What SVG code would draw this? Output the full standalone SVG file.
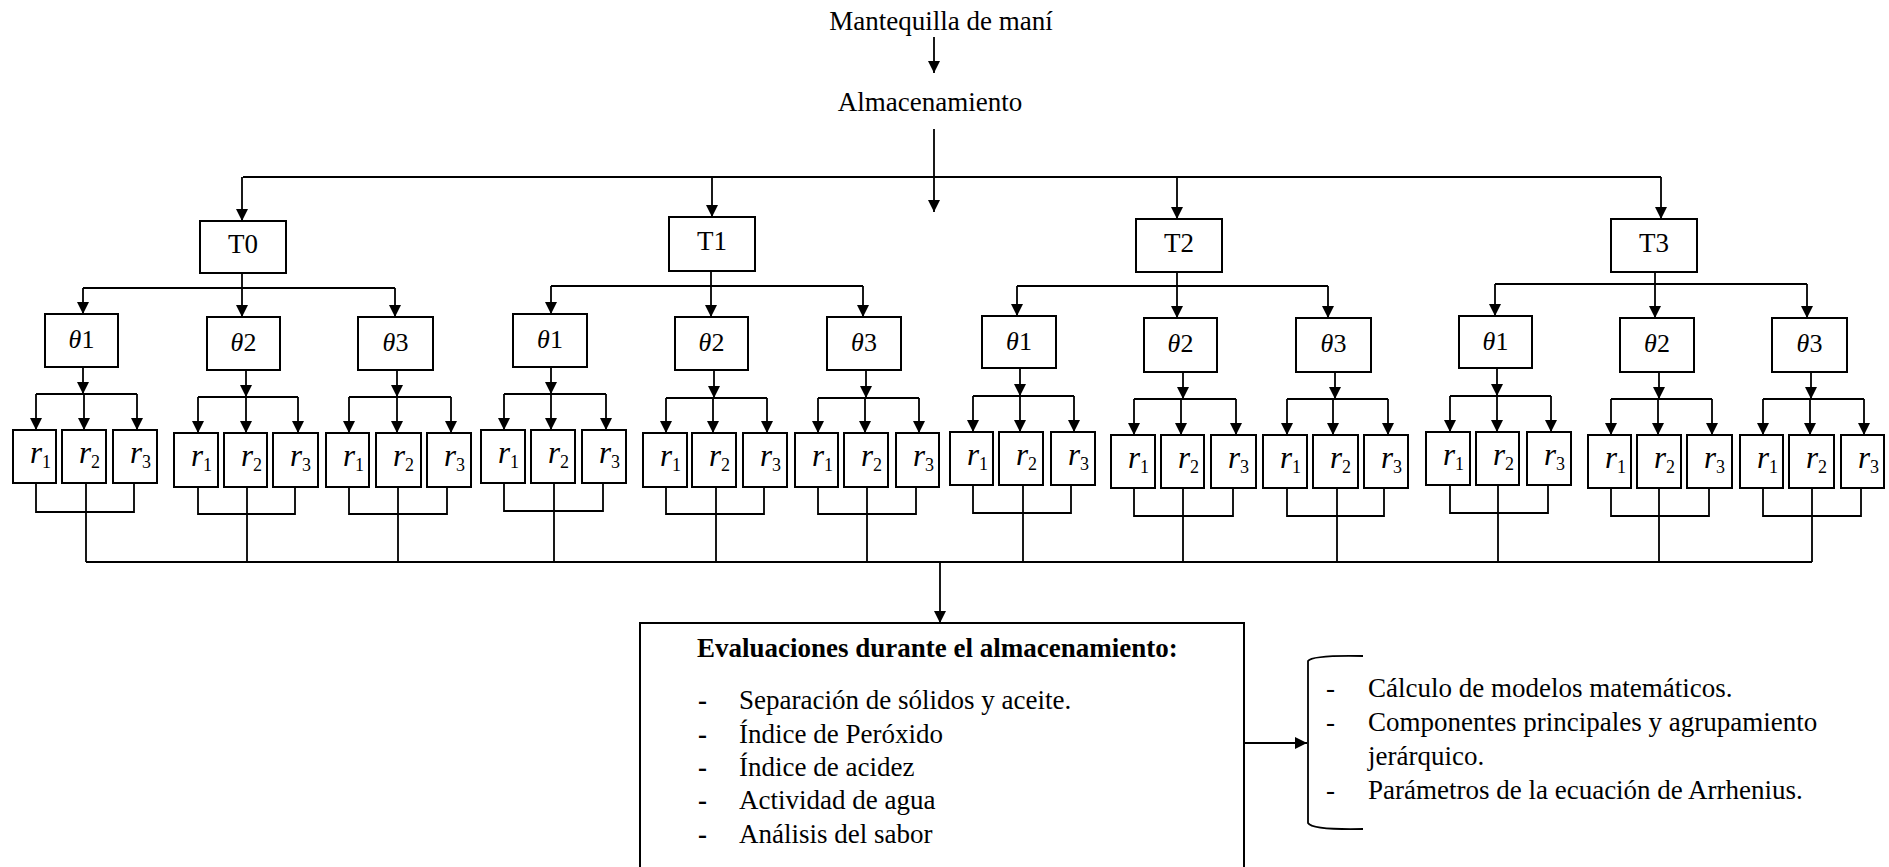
<svg xmlns="http://www.w3.org/2000/svg" width="1889" height="867" viewBox="0 0 1889 867">
<defs>
<marker id="ah" markerUnits="userSpaceOnUse" markerWidth="12" markerHeight="12" refX="12" refY="6" orient="auto"><path d="M0,0L12,6L0,12z" fill="#000"/></marker>
<style>
.b{fill:#fff;stroke:#000;stroke-width:2}
.c path{fill:none;stroke:#000;stroke-width:1.8}
.c path.a{marker-end:url(#ah)}
text{font-family:"Liberation Serif","Times New Roman",serif;fill:#000}
.t{font-size:27px}
.tm{font-size:27px;text-anchor:middle}
.th{font-size:26px;text-anchor:middle}
.th tspan.g{font-style:italic}
.r{font-size:31px;font-style:italic}
.s{font-size:18px;font-style:normal}
.bd{font-weight:bold}
</style>
</defs>
<rect width="1889" height="867" fill="#fff"/>

<g id="mantequilla"><text class="tm" x="941" y="30">Mantequilla de maní</text></g>
<g id="almacenamiento"><text class="tm" x="930" y="111">Almacenamiento</text></g>

<g id="connectors" class="c">
<path class="a" d="M934,37V73"/>
<path class="a" d="M934,129V212"/>
<path d="M243,177H1661"/>
<path class="a" d="M242,177V221"/>
<path class="a" d="M712,177V217"/>
<path class="a" d="M1177,177V219"/>
<path class="a" d="M1661,177V219"/>
<!-- T0 -->
<path d="M242,273V288M83,288H395"/>
<path class="a" d="M83,288V314"/><path class="a" d="M242,288V317"/><path class="a" d="M395,288V317"/>
<path class="a" d="M83,367V394"/><path d="M36,394H137"/>
<path class="a" d="M36,394V430"/><path class="a" d="M84,394V430"/><path class="a" d="M137,394V430"/>
<path d="M36,483V512H134V483M86,483V562"/>
<path class="a" d="M246,370V397"/><path d="M198,397H298"/>
<path class="a" d="M198,397V433"/><path class="a" d="M246,397V433"/><path class="a" d="M298,397V433"/>
<path d="M198,487V514H295V487M247,487V562"/>
<path class="a" d="M397,370V397"/><path d="M349,397H451"/>
<path class="a" d="M349,397V433"/><path class="a" d="M397,397V433"/><path class="a" d="M451,397V433"/>
<path d="M349,487V514H447V487M398,487V562"/>
<!-- T1 -->
<path d="M711,271V286M551,286H863"/>
<path class="a" d="M551,286V314"/><path class="a" d="M711,286V317"/><path class="a" d="M863,286V317"/>
<path class="a" d="M551,367V394"/><path d="M504,394H606"/>
<path class="a" d="M504,394V430"/><path class="a" d="M551,394V430"/><path class="a" d="M606,394V430"/>
<path d="M504,483V511H603V483M554,483V562"/>
<path class="a" d="M714,370V398"/><path d="M666,398H767"/>
<path class="a" d="M666,398V433"/><path class="a" d="M713,398V433"/><path class="a" d="M767,398V433"/>
<path d="M666,487V514H764V487M716,487V562"/>
<path class="a" d="M866,370V398"/><path d="M818,398H919"/>
<path class="a" d="M818,398V433"/><path class="a" d="M865,398V433"/><path class="a" d="M919,398V433"/>
<path d="M818,487V514H916V487M867,487V562"/>
<!-- T2 -->
<path d="M1177,272V286M1017,286H1328"/>
<path class="a" d="M1017,286V316"/><path class="a" d="M1177,286V318"/><path class="a" d="M1328,286V318"/>
<path class="a" d="M1020,368V396"/><path d="M973,396H1074"/>
<path class="a" d="M973,396V432"/><path class="a" d="M1020,396V432"/><path class="a" d="M1074,396V432"/>
<path d="M973,485V513H1071V485M1023,485V562"/>
<path class="a" d="M1183,372V399"/><path d="M1134,399H1236"/>
<path class="a" d="M1134,399V435"/><path class="a" d="M1181,399V435"/><path class="a" d="M1236,399V435"/>
<path d="M1134,488V516H1233V488M1183,488V562"/>
<path class="a" d="M1335,372V399"/><path d="M1287,399H1388"/>
<path class="a" d="M1287,399V435"/><path class="a" d="M1333,399V435"/><path class="a" d="M1388,399V435"/>
<path d="M1287,488V516H1384V488M1337,488V562"/>
<!-- T3 -->
<path d="M1655,272V284M1495,284H1807"/>
<path class="a" d="M1495,284V316"/><path class="a" d="M1655,284V318"/><path class="a" d="M1807,284V318"/>
<path class="a" d="M1497,368V396"/><path d="M1450,396H1551"/>
<path class="a" d="M1450,396V432"/><path class="a" d="M1497,396V432"/><path class="a" d="M1551,396V432"/>
<path d="M1450,485V513H1548V485M1498,485V562"/>
<path class="a" d="M1659,372V399"/><path d="M1611,399H1712"/>
<path class="a" d="M1611,399V435"/><path class="a" d="M1658,399V435"/><path class="a" d="M1712,399V435"/>
<path d="M1611,488V516H1709V488M1659,488V562"/>
<path class="a" d="M1811,372V399"/><path d="M1763,399H1864"/>
<path class="a" d="M1763,399V435"/><path class="a" d="M1810,399V435"/><path class="a" d="M1864,399V435"/>
<path d="M1763,488V516H1861V488M1812,488V562"/>
<!-- bottom -->
<path d="M86,562H1812"/>
<path class="a" d="M940,562V623"/>
<path class="a" d="M1244,743H1307"/>
<path d="M1363,656Q1312,655 1308,661V823Q1312,830 1363,829"/>
</g>

<!-- T boxes -->
<g id="t0"><rect class="b" x="200" y="221" width="86" height="52"/><text class="tm" x="243" y="253">T0</text></g>
<g id="t1"><rect class="b" x="669" y="217" width="86" height="54"/><text class="tm" x="712" y="250">T1</text></g>
<g id="t2"><rect class="b" x="1136" y="219" width="86" height="53"/><text class="tm" x="1179" y="252">T2</text></g>
<g id="t3"><rect class="b" x="1611" y="219" width="86" height="53"/><text class="tm" x="1654" y="252">T3</text></g>

<!-- theta boxes -->
<g id="t0-th1"><rect class="b" x="45" y="314" width="73" height="53"/><text class="th" x="81.5" y="348"><tspan class="g">θ</tspan>1</text></g>
<g id="t0-th2"><rect class="b" x="207" y="317" width="73" height="53"/><text class="th" x="243.5" y="351"><tspan class="g">θ</tspan>2</text></g>
<g id="t0-th3"><rect class="b" x="358" y="317" width="75" height="53"/><text class="th" x="395.5" y="351"><tspan class="g">θ</tspan>3</text></g>
<g id="t1-th1"><rect class="b" x="513" y="314" width="74" height="53"/><text class="th" x="550" y="348"><tspan class="g">θ</tspan>1</text></g>
<g id="t1-th2"><rect class="b" x="675" y="317" width="73" height="53"/><text class="th" x="711.5" y="351"><tspan class="g">θ</tspan>2</text></g>
<g id="t1-th3"><rect class="b" x="827" y="317" width="74" height="53"/><text class="th" x="864" y="351"><tspan class="g">θ</tspan>3</text></g>
<g id="t2-th1"><rect class="b" x="982" y="316" width="74" height="52"/><text class="th" x="1019" y="350"><tspan class="g">θ</tspan>1</text></g>
<g id="t2-th2"><rect class="b" x="1144" y="318" width="73" height="54"/><text class="th" x="1180.5" y="352"><tspan class="g">θ</tspan>2</text></g>
<g id="t2-th3"><rect class="b" x="1296" y="318" width="75" height="54"/><text class="th" x="1333.5" y="352"><tspan class="g">θ</tspan>3</text></g>
<g id="t3-th1"><rect class="b" x="1459" y="316" width="73" height="52"/><text class="th" x="1495.5" y="350"><tspan class="g">θ</tspan>1</text></g>
<g id="t3-th2"><rect class="b" x="1620" y="318" width="74" height="54"/><text class="th" x="1657" y="352"><tspan class="g">θ</tspan>2</text></g>
<g id="t3-th3"><rect class="b" x="1772" y="318" width="75" height="54"/><text class="th" x="1809.5" y="352"><tspan class="g">θ</tspan>3</text></g>

<!-- r boxes T0 -->
<g id="t0-th1-r1"><rect class="b" x="13" y="430" width="43" height="53"/><text class="r" x="30" y="463">r<tspan class="s" dy="5">1</tspan></text></g>
<g id="t0-th1-r2"><rect class="b" x="62" y="430" width="44" height="53"/><text class="r" x="79" y="463">r<tspan class="s" dy="5">2</tspan></text></g>
<g id="t0-th1-r3"><rect class="b" x="113" y="430" width="44" height="53"/><text class="r" x="130" y="463">r<tspan class="s" dy="5">3</tspan></text></g>
<g id="t0-th2-r1"><rect class="b" x="174" y="433" width="44" height="54"/><text class="r" x="191" y="466">r<tspan class="s" dy="5">1</tspan></text></g>
<g id="t0-th2-r2"><rect class="b" x="224" y="433" width="43" height="54"/><text class="r" x="241" y="466">r<tspan class="s" dy="5">2</tspan></text></g>
<g id="t0-th2-r3"><rect class="b" x="273" y="433" width="45" height="54"/><text class="r" x="290" y="466">r<tspan class="s" dy="5">3</tspan></text></g>
<g id="t0-th3-r1"><rect class="b" x="326" y="433" width="43" height="54"/><text class="r" x="343" y="466">r<tspan class="s" dy="5">1</tspan></text></g>
<g id="t0-th3-r2"><rect class="b" x="376" y="433" width="45" height="54"/><text class="r" x="393" y="466">r<tspan class="s" dy="5">2</tspan></text></g>
<g id="t0-th3-r3"><rect class="b" x="427" y="433" width="44" height="54"/><text class="r" x="444" y="466">r<tspan class="s" dy="5">3</tspan></text></g>
<!-- r boxes T1 -->
<g id="t1-th1-r1"><rect class="b" x="481" y="430" width="44" height="53"/><text class="r" x="498" y="463">r<tspan class="s" dy="5">1</tspan></text></g>
<g id="t1-th1-r2"><rect class="b" x="531" y="430" width="44" height="53"/><text class="r" x="548" y="463">r<tspan class="s" dy="5">2</tspan></text></g>
<g id="t1-th1-r3"><rect class="b" x="582" y="430" width="44" height="53"/><text class="r" x="599" y="463">r<tspan class="s" dy="5">3</tspan></text></g>
<g id="t1-th2-r1"><rect class="b" x="643" y="433" width="44" height="54"/><text class="r" x="660" y="466">r<tspan class="s" dy="5">1</tspan></text></g>
<g id="t1-th2-r2"><rect class="b" x="692" y="433" width="44" height="54"/><text class="r" x="709" y="466">r<tspan class="s" dy="5">2</tspan></text></g>
<g id="t1-th2-r3"><rect class="b" x="743" y="433" width="44" height="54"/><text class="r" x="760" y="466">r<tspan class="s" dy="5">3</tspan></text></g>
<g id="t1-th3-r1"><rect class="b" x="795" y="433" width="43" height="54"/><text class="r" x="812" y="466">r<tspan class="s" dy="5">1</tspan></text></g>
<g id="t1-th3-r2"><rect class="b" x="844" y="433" width="44" height="54"/><text class="r" x="861" y="466">r<tspan class="s" dy="5">2</tspan></text></g>
<g id="t1-th3-r3"><rect class="b" x="896" y="433" width="43" height="54"/><text class="r" x="913" y="466">r<tspan class="s" dy="5">3</tspan></text></g>
<!-- r boxes T2 -->
<g id="t2-th1-r1"><rect class="b" x="950" y="432" width="43" height="53"/><text class="r" x="967" y="465">r<tspan class="s" dy="5">1</tspan></text></g>
<g id="t2-th1-r2"><rect class="b" x="999" y="432" width="44" height="53"/><text class="r" x="1016" y="465">r<tspan class="s" dy="5">2</tspan></text></g>
<g id="t2-th1-r3"><rect class="b" x="1051" y="432" width="44" height="53"/><text class="r" x="1068" y="465">r<tspan class="s" dy="5">3</tspan></text></g>
<g id="t2-th2-r1"><rect class="b" x="1111" y="435" width="44" height="53"/><text class="r" x="1128" y="468">r<tspan class="s" dy="5">1</tspan></text></g>
<g id="t2-th2-r2"><rect class="b" x="1161" y="435" width="43" height="53"/><text class="r" x="1178" y="468">r<tspan class="s" dy="5">2</tspan></text></g>
<g id="t2-th2-r3"><rect class="b" x="1211" y="435" width="45" height="53"/><text class="r" x="1228" y="468">r<tspan class="s" dy="5">3</tspan></text></g>
<g id="t2-th3-r1"><rect class="b" x="1263" y="435" width="44" height="53"/><text class="r" x="1280" y="468">r<tspan class="s" dy="5">1</tspan></text></g>
<g id="t2-th3-r2"><rect class="b" x="1313" y="435" width="45" height="53"/><text class="r" x="1330" y="468">r<tspan class="s" dy="5">2</tspan></text></g>
<g id="t2-th3-r3"><rect class="b" x="1364" y="435" width="44" height="53"/><text class="r" x="1381" y="468">r<tspan class="s" dy="5">3</tspan></text></g>
<!-- r boxes T3 -->
<g id="t3-th1-r1"><rect class="b" x="1426" y="432" width="44" height="53"/><text class="r" x="1443" y="465">r<tspan class="s" dy="5">1</tspan></text></g>
<g id="t3-th1-r2"><rect class="b" x="1476" y="432" width="43" height="53"/><text class="r" x="1493" y="465">r<tspan class="s" dy="5">2</tspan></text></g>
<g id="t3-th1-r3"><rect class="b" x="1527" y="432" width="44" height="53"/><text class="r" x="1544" y="465">r<tspan class="s" dy="5">3</tspan></text></g>
<g id="t3-th2-r1"><rect class="b" x="1588" y="435" width="43" height="53"/><text class="r" x="1605" y="468">r<tspan class="s" dy="5">1</tspan></text></g>
<g id="t3-th2-r2"><rect class="b" x="1637" y="435" width="44" height="53"/><text class="r" x="1654" y="468">r<tspan class="s" dy="5">2</tspan></text></g>
<g id="t3-th2-r3"><rect class="b" x="1687" y="435" width="45" height="53"/><text class="r" x="1704" y="468">r<tspan class="s" dy="5">3</tspan></text></g>
<g id="t3-th3-r1"><rect class="b" x="1740" y="435" width="43" height="53"/><text class="r" x="1757" y="468">r<tspan class="s" dy="5">1</tspan></text></g>
<g id="t3-th3-r2"><rect class="b" x="1789" y="435" width="45" height="53"/><text class="r" x="1806" y="468">r<tspan class="s" dy="5">2</tspan></text></g>
<g id="t3-th3-r3"><rect class="b" x="1841" y="435" width="43" height="53"/><text class="r" x="1858" y="468">r<tspan class="s" dy="5">3</tspan></text></g>

<!-- evaluation box -->
<g id="evaluaciones">
<rect class="b" x="640" y="623" width="604" height="260"/>
<text class="t bd" x="697" y="657">Evaluaciones durante el almacenamiento:</text>
<text class="t bd" x="698" y="709">-</text><text class="t" x="739" y="709">Separación de sólidos y aceite.</text>
<text class="t bd" x="698" y="743">-</text><text class="t" x="739" y="743">Índice de Peróxido</text>
<text class="t bd" x="698" y="776">-</text><text class="t" x="739" y="776">Índice de acidez</text>
<text class="t bd" x="698" y="809">-</text><text class="t" x="739" y="809">Actividad de agua</text>
<text class="t bd" x="698" y="843">-</text><text class="t" x="739" y="843">Análisis del sabor</text>
</g>

<g id="resultados">
<text class="t" x="1326" y="697">-</text><text class="t" x="1368" y="697">Cálculo de modelos matemáticos.</text>
<text class="t" x="1326" y="731">-</text><text class="t" x="1368" y="731">Componentes principales y agrupamiento</text>
<text class="t" x="1368" y="765">jerárquico.</text>
<text class="t" x="1326" y="799">-</text><text class="t" x="1368" y="799">Parámetros de la ecuación de Arrhenius.</text>
</g>
</svg>
